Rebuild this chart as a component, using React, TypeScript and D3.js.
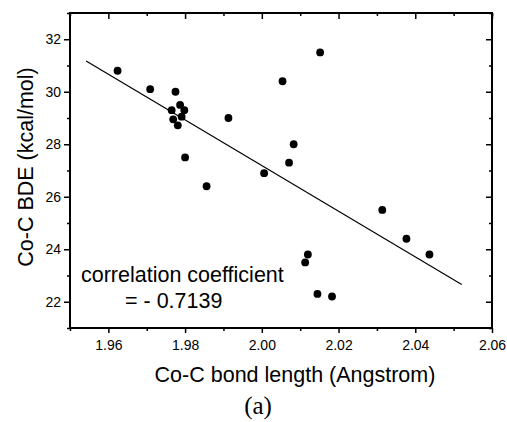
import React, { useRef, useEffect } from 'react';
import * as d3 from 'd3';

// Co-C bond length (Angstrom) vs Co-C BDE (kcal/mol)
const bondLength = [
  1.9624, 1.9709, 1.9775, 1.9787, 1.9798, 1.9765, 1.9769, 1.9791, 1.9781,
  1.9913, 1.98, 1.9856, 2.0054, 2.0152, 2.0006, 2.0071, 2.0083, 2.0314,
  2.0377, 2.0437, 2.012, 2.0113, 2.0145, 2.0183,
];
const bde = [
  30.8, 30.1, 30.0, 29.5, 29.3, 29.3, 28.95, 29.05, 28.72,
  29.0, 27.5, 26.4, 30.4, 31.5, 26.9, 27.3, 28.0, 25.5,
  24.4, 23.8, 23.8, 23.5, 22.3, 22.2,
];

// linear fit line end points
const fitX = [1.9542, 2.0521];
const fitY = [31.17, 22.66];

const xMajor = [1.96, 1.98, 2.0, 2.02, 2.04, 2.06];
const xMinor = [1.95, 1.97, 1.99, 2.01, 2.03, 2.05];
const yMajor = [22, 24, 26, 28, 30, 32];
const yMinor = [21, 23, 25, 27, 29, 31, 33];

const W = 507;
const H = 422;
const left = 70;
const right = 492;
const top = 13;
const bottom = 328;

const App = () => {
  const ref = useRef<SVGSVGElement>(null);

  useEffect(() => {
    const svg = d3.select(ref.current);
    svg.selectAll('*').remove();

    const x = d3.scaleLinear().domain([1.95, 2.06]).range([left, right]);
    const y = d3.scaleLinear().domain([21, 33]).range([bottom, top]);
    const font = 'Arial, "Liberation Sans", sans-serif';

    const tick = (g, axis) => {
      g.call(axis);
      g.select('.domain').remove();
      g.selectAll('line').attr('stroke', '#000').attr('stroke-width', 1.5);
      g.selectAll('text').remove();
    };

    // bottom: outward ticks with labels
    svg.append('g').attr('transform', `translate(0,${bottom})`)
      .call(g => tick(g, d3.axisBottom(x).tickValues(xMinor).tickSize(3)));
    const bx = svg.append('g').attr('transform', `translate(0,${bottom})`)
      .call(d3.axisBottom(x).tickValues(xMajor).tickSize(5).tickFormat(d3.format('.2f')));
    bx.select('.domain').remove();
    bx.selectAll('line').attr('stroke', '#000').attr('stroke-width', 1.5);
    bx.selectAll('text').attr('font-family', font).attr('font-size', 14).attr('fill', '#000')
      .attr('y', 22).attr('dy', 0);

    // top: inward ticks
    svg.append('g').attr('transform', `translate(0,${top})`)
      .call(g => tick(g, d3.axisBottom(x).tickValues(xMinor.concat([2.06])).tickSize(3)));
    svg.append('g').attr('transform', `translate(0,${top})`)
      .call(g => tick(g, d3.axisBottom(x).tickValues(xMajor).tickSize(6)));

    // left: outward ticks with labels
    svg.append('g').attr('transform', `translate(${left},0)`)
      .call(g => tick(g, d3.axisLeft(y).tickValues(yMinor).tickSize(3)));
    const ly = svg.append('g').attr('transform', `translate(${left},0)`)
      .call(d3.axisLeft(y).tickValues(yMajor).tickSize(6).tickFormat(d3.format('d')));
    ly.select('.domain').remove();
    ly.selectAll('line').attr('stroke', '#000').attr('stroke-width', 1.5);
    ly.selectAll('text').attr('font-family', font).attr('font-size', 14).attr('fill', '#000')
      .attr('x', -9);

    // right: inward ticks
    svg.append('g').attr('transform', `translate(${right},0)`)
      .call(g => tick(g, d3.axisLeft(y).tickValues(yMinor).tickSize(3)));
    svg.append('g').attr('transform', `translate(${right},0)`)
      .call(g => tick(g, d3.axisLeft(y).tickValues(yMajor).tickSize(6)));

    // frame
    svg.append('rect')
      .attr('x', left).attr('y', top)
      .attr('width', right - left).attr('height', bottom - top)
      .attr('fill', 'none').attr('stroke', '#000').attr('stroke-width', 2);

    // fit line
    const line = d3.line<number>().x((d, i) => x(fitX[i])).y(d => y(d));
    svg.append('path')
      .attr('d', line(fitY))
      .attr('fill', 'none').attr('stroke', '#000').attr('stroke-width', 1.2);

    // points
    svg.append('g').selectAll('circle')
      .data(bondLength)
      .enter()
      .append('circle')
      .attr('cx', d => x(d))
      .attr('cy', (d, i) => y(bde[i]))
      .attr('r', 3.9)
      .attr('fill', '#000');

    // annotation
    svg.append('text').attr('x', 81).attr('y', 282)
      .attr('font-family', font).attr('font-size', 21.5).text('correlation coefficient');
    svg.append('text').attr('x', 125).attr('y', 307.5)
      .attr('font-family', font).attr('font-size', 21.5).text('= - 0.7139');

    // axis titles
    svg.append('text').attr('x', 295).attr('y', 381.5).attr('text-anchor', 'middle')
      .attr('font-family', font).attr('font-size', 21.5).text('Co-C bond length (Angstrom)');
    svg.append('text').attr('transform', 'translate(33,167) rotate(-90)').attr('text-anchor', 'middle')
      .attr('font-family', font).attr('font-size', 21.5).text('Co-C BDE (kcal/mol)');

    svg.append('text').attr('x', 258).attr('y', 414).attr('text-anchor', 'middle')
      .attr('font-family', '"Times New Roman", "Liberation Serif", serif').attr('font-size', 25)
      .text('(a)');
  }, []);

  return (
    <div style={{ position: 'absolute', left: 0, top: 0 }}>
      <svg ref={ref} width={W} height={H} style={{ display: 'block', background: '#fff' }}></svg>
    </div>
  );
};

export default App;
